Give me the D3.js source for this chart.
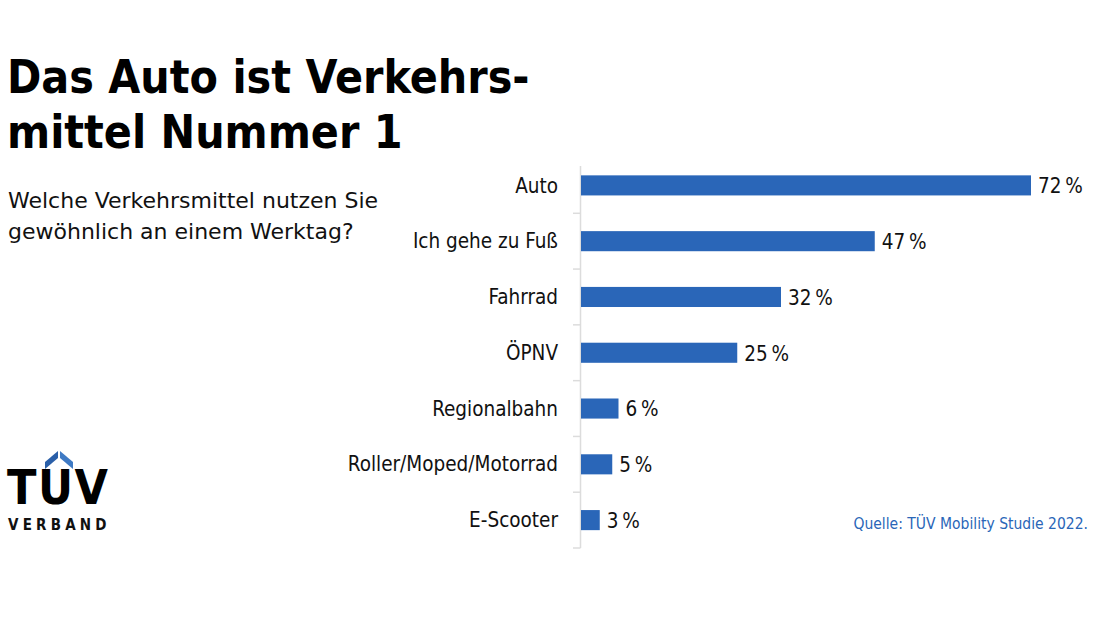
<!DOCTYPE html>
<html>
<head>
<meta charset="utf-8">
<script src="https://cdn.jsdelivr.net/npm/d3@7"></script>
<style>
  body { margin: 0; background: #fff; }
  svg text { font-family: "DejaVu Sans Condensed", "DejaVu Sans", sans-serif; }
</style>
</head>
<body>
<div id="chart"></div>
<script>
// data
const categories = ["Auto", "Ich gehe zu Fuß", "Fahrrad", "ÖPNV", "Regionalbahn", "Roller/Moped/Motorrad", "E-Scooter"];
const values = [72, 47, 32, 25, 6, 5, 3];
const titleLines = ["Das Auto ist Verkehrs-", "mittel Nummer 1"];
const subtitleLines = ["Welche Verkehrsmittel nutzen Sie", "gewöhnlich an einem Werktag?"];
const source = "Quelle: TÜV Mobility Studie 2022.";

const blue = "#2a66b8";
const width = 1100, height = 619;

const svg = d3.select("#chart").append("svg")
    .attr("width", width)
    .attr("height", height);

// title + subtitle
svg.append("g").selectAll("text")
    .data(titleLines)
    .enter()
    .append("text")
    .attr("x", 7)
    .attr("y", (d, i) => 93 + i * 55)
    .attr("font-size", 46)
    .attr("font-weight", "bold")
    .attr("fill", "#000")
    .text(d => d);

svg.append("g").selectAll("text")
    .data(subtitleLines)
    .enter()
    .append("text")
    .attr("x", 8)
    .attr("y", (d, i) => 208 + i * 31)
    .attr("font-size", 22)
    .style("font-family", "'DejaVu Sans', sans-serif")
    .attr("fill", "#111")
    .text(d => d);

// scales
const x = d3.scaleLinear().domain([0, 72]).range([581, 1031]);
const y = d3.scaleBand().domain(categories).range([157.5, 548]).paddingInner(0.64).paddingOuter(0.32);

// axis line + ticks between bands
const g = svg.append("g");
g.append("line")
    .attr("x1", 580.5).attr("x2", 580.5)
    .attr("y1", 166).attr("y2", 548)
    .attr("stroke", "#dcdcdc")
    .attr("stroke-width", 1.5);

const boundaries = d3.range(1, categories.length + 1).map(i => 157.5 + i * y.step());
g.selectAll(".tick")
    .data(boundaries)
    .enter()
    .append("line")
    .attr("class", "tick")
    .attr("x1", 573).attr("x2", 580.5)
    .attr("y1", d => d).attr("y2", d => d)
    .attr("stroke", "#dcdcdc")
    .attr("stroke-width", 1.5);

// bars
g.selectAll(".bar")
    .data(values)
    .enter()
    .append("rect")
    .attr("class", "bar")
    .attr("x", x(0))
    .attr("y", (d, i) => y(categories[i]))
    .attr("width", d => x(d) - x(0))
    .attr("height", y.bandwidth())
    .attr("fill", blue);

// category labels
g.selectAll(".cat")
    .data(categories)
    .enter()
    .append("text")
    .attr("class", "cat")
    .attr("x", 558)
    .attr("y", d => y(d) + y.bandwidth() / 2)
    .attr("dy", "0.35em")
    .attr("text-anchor", "end")
    .attr("font-size", 20.5)
    .attr("fill", "#111")
    .text(d => d);

// value labels
g.selectAll(".val")
    .data(values)
    .enter()
    .append("text")
    .attr("class", "val")
    .attr("x", d => x(d) + 7)
    .attr("y", (d, i) => y(categories[i]) + y.bandwidth() / 2)
    .attr("dy", "0.38em")
    .attr("font-size", 20.5)
    .attr("fill", "#111")
    .text(d => d + "\u2009%");

// source
svg.append("text")
    .attr("x", 1088)
    .attr("y", 529)
    .attr("text-anchor", "end")
    .attr("font-size", 15.5)
    .attr("fill", blue)
    .text(source);

// logo
const logo = svg.append("g");
logo.append("text")
    .attr("x", 7)
    .attr("y", 504)
    .attr("font-size", 48)
    .attr("font-weight", "bold")
    .attr("letter-spacing", 1.5)
    .attr("fill", "#000")
    .text("TUV");
logo.append("path")
    .attr("d", "M45,462 L58,451 L58,458 L45,469 Z")
    .attr("fill", "#2a5fa8");
logo.append("path")
    .attr("d", "M60,451 L73,462 L73,469 L60,458 Z")
    .attr("fill", "#3f7ac4");
logo.append("text")
    .attr("x", 8)
    .attr("y", 530)
    .attr("font-size", 15)
    .attr("font-weight", "bold")
    .attr("letter-spacing", 4.2)
    .attr("fill", "#111")
    .text("VERBAND");
</script>
</body>
</html>
